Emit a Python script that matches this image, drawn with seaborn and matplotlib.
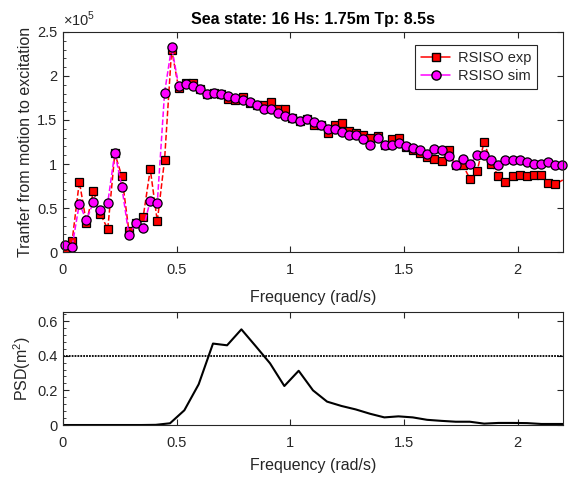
import numpy as np
import pandas as pd
import matplotlib
matplotlib.use("Agg")
import matplotlib.pyplot as plt
import seaborn as sns
from matplotlib.lines import Line2D
from matplotlib.ticker import FormatStrFormatter, AutoMinorLocator

sns.set_theme(style="white")
plt.rcParams['font.family'] = ['Liberation Sans', 'DejaVu Sans']
plt.rcParams['mathtext.fontset'] = 'custom'
plt.rcParams['mathtext.rm'] = 'Liberation Sans'

# ---------------- data ----------------
freq_top = [0.009, 0.040, 0.072, 0.103, 0.134, 0.165, 0.197, 0.228, 0.259, 0.290,
            0.322, 0.353, 0.384, 0.415, 0.447, 0.478, 0.509, 0.540, 0.572, 0.603,
            0.634, 0.665, 0.697, 0.728, 0.759, 0.790, 0.822, 0.853, 0.884, 0.916,
            0.947, 0.978, 1.009, 1.041, 1.072, 1.103, 1.134, 1.166, 1.197, 1.228,
            1.259, 1.291, 1.322, 1.353, 1.384, 1.416, 1.447, 1.478, 1.509, 1.541,
            1.572, 1.603, 1.634, 1.666, 1.697, 1.728, 1.759, 1.791, 1.822, 1.853,
            1.885, 1.916, 1.947, 1.978, 2.010, 2.041, 2.072, 2.103, 2.135, 2.166,
            2.197]
freq_exp_extra = [2.228]

# transfer values in units of 1e5
rsiso_exp = [0.03, 0.12, 0.80, 0.33, 0.69, 0.43, 0.26, 1.12, 0.86, 0.24,
             0.33, 0.40, 0.94, 0.35, 1.05, 2.30, 1.86, 1.92, 1.92, 1.85,
             1.80, 1.81, 1.80, 1.74, 1.73, 1.76, 1.69, 1.67, 1.67, 1.71,
             1.62, 1.62, 1.52, 1.49, 1.51, 1.44, 1.44, 1.35, 1.44, 1.47,
             1.37, 1.35, 1.33, 1.30, 1.32, 1.22, 1.28, 1.30, 1.19, 1.16,
             1.12, 1.08, 1.06, 1.03, 1.16, 0.99, 0.99, 0.83, 0.92, 1.25,
             1.00, 0.86, 0.80, 0.86, 0.87, 0.86, 0.87, 0.87, 0.78, 0.77,
             None, 0.86]
rsiso_sim = [0.08, 0.06, 0.55, 0.36, 0.57, 0.48, 0.56, 1.13, 0.74, 0.19,
             0.33, 0.27, 0.58, 0.56, 1.81, 2.33, 1.89, 1.91, 1.89, 1.85,
             1.80, 1.81, 1.80, 1.77, 1.75, 1.73, 1.70, 1.67, 1.63, 1.63,
             1.58, 1.55, 1.52, 1.49, 1.51, 1.48, 1.44, 1.40, 1.40, 1.36,
             1.33, 1.33, 1.28, 1.22, 1.30, 1.22, 1.22, 1.24, 1.21, 1.18,
             1.16, 1.11, 1.17, 1.16, 1.09, 0.99, 1.06, 1.00, 1.10, 1.10,
             1.05, 0.99, 1.05, 1.04, 1.04, 1.02, 1.00, 1.00, 1.02, 0.99,
             0.99]

freq_psd = [0.0, 0.031, 0.094, 0.157, 0.220, 0.283, 0.346, 0.408, 0.471, 0.534,
            0.597, 0.660, 0.722, 0.785, 0.848, 0.911, 0.974, 1.037, 1.100, 1.162,
            1.225, 1.288, 1.351, 1.414, 1.476, 1.539, 1.602, 1.665, 1.728, 1.790,
            1.853, 1.916, 1.979, 2.042, 2.105, 2.168, 2.231]
psd = [0.0, 0.0, 0.0, 0.0, 0.0, 0.0, 0.0, 0.001, 0.010, 0.085,
       0.235, 0.470, 0.460, 0.552, 0.455, 0.356, 0.225, 0.313, 0.200, 0.135,
       0.110, 0.090, 0.065, 0.044, 0.050, 0.044, 0.030, 0.024, 0.019, 0.019,
       0.008, 0.012, 0.012, 0.011, 0.006, 0.006, 0.006]
psd_ref_level = 0.4

title = "Sea state: 16 Hs: 1.75m Tp: 8.5s"

# ---------------- figure ----------------
fig = plt.figure(figsize=(5.7, 4.79), dpi=100)
ax1 = fig.add_axes([0.1105, 0.4739, 0.8772, 0.4593])
ax2 = fig.add_axes([0.1105, 0.1127, 0.8772, 0.2366])

tick_col = '#262626'

df_exp = pd.DataFrame({'f': freq_top + freq_exp_extra,
                       'v': [np.nan if v is None else v for v in rsiso_exp]})
df_sim = pd.DataFrame({'f': freq_top, 'v': rsiso_sim})

sns.lineplot(data=df_exp, x='f', y='v', ax=ax1, color='#ff0000', lw=1.1,
             ls='--', marker='s', markersize=6, markerfacecolor='#ff0000',
             markeredgecolor='black', markeredgewidth=0.9,
             estimator=None, sort=False)
sns.lineplot(data=df_sim, x='f', y='v', ax=ax1, color='#ff00ff', lw=1.1,
             ls='--', marker='o', markersize=6.6, markerfacecolor='#ff00ff',
             markeredgecolor='black', markeredgewidth=0.9,
             estimator=None, sort=False, clip_on=False)

ax1.set_xlim(0, 2.2)
ax1.set_ylim(0, 2.5)
ax1.set_xticks([0, 0.5, 1, 1.5, 2])
ax1.set_yticks([0, 0.5, 1, 1.5, 2, 2.5])
ax1.xaxis.set_major_formatter(FormatStrFormatter('%g'))
ax1.yaxis.set_major_formatter(FormatStrFormatter('%g'))
ax1.set_xlabel('Frequency (rad/s)', fontsize=11.5, color=tick_col, labelpad=9)
ax1.set_ylabel('Tranfer from motion to excitation', fontsize=11.5,
               color=tick_col, labelpad=3)
ax1.set_title(title, fontsize=11.5, fontweight='bold', color='black', pad=6)
ax1.text(0.0, 1.012, r'$\times10^{5}$', transform=ax1.transAxes,
         fontsize=10.5, color=tick_col, ha='left', va='bottom')

handles = [Line2D([0], [0], color='#ff0000', lw=1.1, marker='s', markersize=6,
                  markerfacecolor='#ff0000', markeredgecolor='black'),
           Line2D([0], [0], color='#ff00ff', lw=1.1, marker='o', markersize=6.6,
                  markerfacecolor='#ff00ff', markeredgecolor='black')]
leg = ax1.legend(handles, ['RSISO exp', 'RSISO sim'], loc='upper right',
                 bbox_to_anchor=(0.948, 0.941), borderaxespad=0,
                 fontsize=10.5, frameon=True, fancybox=False, framealpha=1,
                 edgecolor='#262626', handlelength=2.0, handletextpad=0.5,
                 borderpad=0.4, labelspacing=0.3)
leg.get_frame().set_linewidth(0.8)

# PSD
df_psd = pd.DataFrame({'f': freq_psd, 'v': psd})
sns.lineplot(data=df_psd, x='f', y='v', ax=ax2, color='black', lw=1.5,
             estimator=None, sort=False)
ax2.axhline(psd_ref_level, color='black', lw=1.3, ls=(0, (1, 0.6)))
ax2.set_xlim(0, 2.2)
ax2.set_ylim(0, 0.654)
ax2.set_xticks([0, 0.5, 1, 1.5, 2])
ax2.set_yticks([0, 0.2, 0.4, 0.6])
ax2.xaxis.set_major_formatter(FormatStrFormatter('%g'))
ax2.yaxis.set_major_formatter(FormatStrFormatter('%g'))
ax2.set_xlabel('Frequency (rad/s)', fontsize=11.5, color=tick_col, labelpad=6)
ax2.set_ylabel(r'PSD(m$^2$)', fontsize=11.5, color=tick_col, labelpad=3)

for ax in (ax1, ax2):
    for s in ax.spines.values():
        s.set_visible(True)
        s.set_color(tick_col)
        s.set_linewidth(0.8)
    ax.tick_params(axis='both', which='major', direction='in', length=4,
                   width=0.8, color=tick_col, labelcolor=tick_col,
                   labelsize=10.5, top=True, right=True, bottom=True, left=True,
                   pad=4)
    ax.tick_params(axis='x', which='major', pad=8)
    ax.yaxis.set_minor_locator(AutoMinorLocator(5))
    ax.tick_params(axis='y', which='minor', direction='in', length=2,
                   width=0.6, color=tick_col, left=True, right=False)
    ax.set_facecolor('white')

fig.savefig('out.png', dpi=100, facecolor='white')
